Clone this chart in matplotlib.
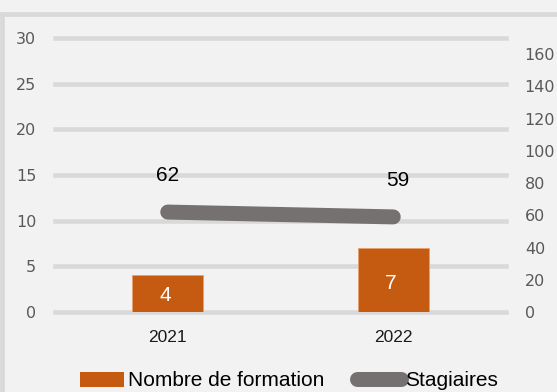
import matplotlib
matplotlib.use("Agg")
import matplotlib.pyplot as plt
from matplotlib.patches import Patch
from matplotlib.lines import Line2D
import numpy as np

years = ["2021", "2022"]
formations = [4, 7]
stagiaires = [62, 59]
left_ticks = [0, 5, 10, 15, 20, 25, 30]
right_ticks = [0, 20, 40, 60, 80, 100, 120, 140, 160]

BG = "#f2f2f2"
GRID = "#d9d9d9"
BAR = "#c55a11"
LINE = "#767171"
TICK = "#595959"
SANS = "Liberation Sans"

W, H = 557, 392
fig = plt.figure(figsize=(W / 100, H / 100), dpi=100, facecolor=BG)

# outer frame: top and left edges
ty = 1 - 14.4 / H
fig.add_artist(Line2D([0, 1], [ty, ty], transform=fig.transFigure,
                      color=GRID, lw=3.4, solid_capstyle="butt"))
fig.add_artist(Line2D([2.3 / W, 2.3 / W], [0, ty + 2.3 / H],
                      transform=fig.transFigure, color=GRID, lw=3.4,
                      solid_capstyle="butt"))

ax = fig.add_axes([55 / W, 80 / H, 451 / W, 274 / H])
ax.set_facecolor("none")
x = np.arange(len(years))
ax.set_xlim(-0.5, 1.5)
ax.set_ylim(0, 30)

for t in left_ticks:
    ax.axhline(t, color=GRID, lw=3.3, zorder=0, clip_on=False)

ax.bar(x, formations, width=0.314, color=BAR, edgecolor="#e8a06e",
       lw=0.6, zorder=2)
for xi, v in zip(x, formations):
    ax.text(xi - 0.01, v / 2 - (0.2 if v < 5 else 0.4), str(v), color="white",
            ha="center", va="center", fontsize=15, family=SANS, zorder=5)

ax.set_yticks(left_ticks)
ax.set_xticks(x)
ax.set_xticklabels(years)
for s in ax.spines.values():
    s.set_visible(False)
ax.tick_params(axis="y", length=0, pad=13.5, labelsize=11.5, labelcolor=TICK)
ax.tick_params(axis="x", length=0, pad=13, labelsize=12.5, labelcolor="#1a1a1a")
for lab in ax.get_yticklabels():
    lab.set_family("DejaVu Sans")
for lab in ax.get_xticklabels():
    lab.set_family(SANS)

ax2 = ax.twinx()
ax2.set_ylim(0, 170)
ax2.set_yticks(right_ticks)
for s in ax2.spines.values():
    s.set_visible(False)
ax2.tick_params(axis="y", length=0, pad=13.5, labelsize=11.5, labelcolor=TICK)
for lab in ax2.get_yticklabels():
    lab.set_family("DejaVu Sans")
ax2.plot(x, stagiaires, color=LINE, lw=10.8, solid_capstyle="round", zorder=3)
offsets = [(0.0, 23.0), (0.02, 22.5)]
for xi, v, (dx, dy) in zip(x, stagiaires, offsets):
    ax2.text(xi + dx, v + dy, str(v), color="black", ha="center", va="center",
             fontsize=15, family=SANS)

handles = [Patch(facecolor=BAR, edgecolor="none"),
           Line2D([0], [0], color=LINE, lw=10.8, solid_capstyle="round")]
fig.legend(handles, ["Nombre de formation", "Stagiaires"],
           loc="center", bbox_to_anchor=(289 / W, 1 - 381 / H),
           ncol=2, frameon=False, handlelength=2.1, handletextpad=0.2,
           columnspacing=1.6, prop={"family": SANS, "size": 15})

fig.savefig("out.png", dpi=100, facecolor=BG)
